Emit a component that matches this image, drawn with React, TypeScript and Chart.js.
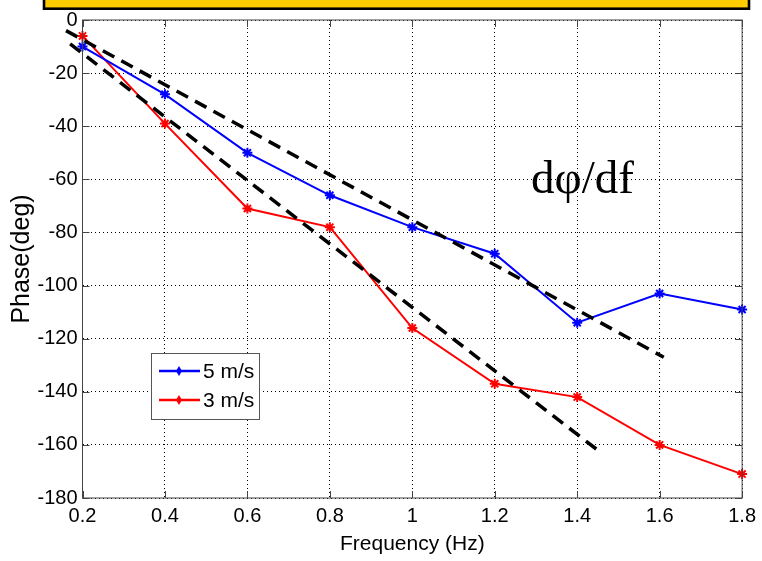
import { useEffect, useRef } from "react";
import { Chart, registerables } from "chart.js";

Chart.register(...registerables);

// ---- data ----
const frequencies = [0.2, 0.4, 0.6, 0.8, 1.0, 1.2, 1.4, 1.6, 1.8];
const phase5ms = [-10, -28, -50, -66, -78, -88, -114, -103, -109];
const phase3ms = [-6, -39, -71, -78, -116, -137, -142, -160, -171];
const fitUpperX = [0.16, 1.61];
const fitUpperY = [-4, -127];
const fitLowerX = [0.17, 1.45];
const fitLowerY = [-9, -162];
const xTickValues = [0.2, 0.4, 0.6, 0.8, 1.0, 1.2, 1.4, 1.6, 1.8];
const yTickValues = [0, -20, -40, -60, -80, -100, -120, -140, -160, -180];
const seriesLabels = ["5 m/s", "3 m/s"];
const xTitle = "Frequency (Hz)";
const yTitle = "Phase(deg)";
const annotationText = "dφ/df";

const SANS = "'Liberation Sans', Arial, sans-serif";
const SERIF = "'Liberation Serif', 'Times New Roman', serif";

const toXY = (xs: number[], ys: number[]) => xs.map((x, i) => ({ x, y: ys[i] }));

const decorPlugin = {
  id: "decor",
  afterDraw(chart: any) {
    const { ctx, chartArea } = chart;
    const { left, right, top, bottom } = chartArea;
    ctx.save();
    // yellow header box (cut off at top)
    ctx.fillStyle = "#FFCC00";
    ctx.fillRect(44, -4, 705, 12.7);
    ctx.strokeStyle = "#000";
    ctx.lineWidth = 2.6;
    ctx.strokeRect(44, -4, 705, 12.7);

    // axes box
    ctx.strokeStyle = "#444";
    ctx.lineWidth = 1;
    ctx.strokeRect(left, top, right - left, bottom - top);

    // inward ticks
    const xs = chart.scales.x;
    const ys = chart.scales.y;
    ctx.beginPath();
    xTickValues.forEach((v) => {
      const px = Math.round(xs.getPixelForValue(v)) + 0.5;
      ctx.moveTo(px, bottom);
      ctx.lineTo(px, bottom - 7);
      ctx.moveTo(px, top);
      ctx.lineTo(px, top + 7);
    });
    yTickValues.forEach((v) => {
      const py = Math.round(ys.getPixelForValue(v)) + 0.5;
      ctx.moveTo(left, py);
      ctx.lineTo(left + 7, py);
      ctx.moveTo(right, py);
      ctx.lineTo(right - 7, py);
    });
    ctx.stroke();

    // legend
    const lx = 151, ly = 353, lw = 108, lh = 66;
    ctx.fillStyle = "#fff";
    ctx.fillRect(lx, ly, lw, lh);
    ctx.strokeStyle = "#555";
    ctx.lineWidth = 1;
    ctx.strokeRect(lx + 0.5, ly + 0.5, lw, lh);
    const ds = chart.data.datasets.filter((d: any) => seriesLabels.includes(d.label));
    ds.forEach((d: any, i: number) => {
      const y = 371 + i * 29;
      ctx.strokeStyle = d.borderColor;
      ctx.lineWidth = 2.5;
      ctx.beginPath();
      ctx.moveTo(159, y);
      ctx.lineTo(200, y);
      ctx.stroke();
      ctx.fillStyle = d.borderColor;
      ctx.beginPath();
      ctx.moveTo(179, y - 5);
      ctx.lineTo(182, y);
      ctx.lineTo(179, y + 5);
      ctx.lineTo(176, y);
      ctx.closePath();
      ctx.fill();
      ctx.fillStyle = "#000";
      ctx.font = `21px ${SANS}`;
      ctx.textBaseline = "middle";
      ctx.textAlign = "left";
      ctx.fillText(d.label, 203, y + 1);
    });

    // annotation
    ctx.fillStyle = "#000";
    ctx.font = `47px ${SERIF}`;
    ctx.textBaseline = "alphabetic";
    ctx.textAlign = "left";
    ctx.fillText(annotationText, 531, 193);
    ctx.restore();
  },
};

export default function App() {
  const ref = useRef<HTMLCanvasElement | null>(null);

  useEffect(() => {
    if (!ref.current) return;
    const chart = new Chart(ref.current, {
      type: "line",
      data: {
        datasets: [
          {
            label: "fit1",
            data: toXY(fitUpperX, fitUpperY),
            borderColor: "#000",
            borderWidth: 3.5,
            borderDash: [13, 8],
            pointRadius: 0,
            clip: false as any,
            order: 0,
          },
          {
            label: "fit2",
            data: toXY(fitLowerX, fitLowerY),
            borderColor: "#000",
            borderWidth: 3.5,
            borderDash: [13, 8],
            pointRadius: 0,
            clip: false as any,
            order: 0,
          },
          {
            label: seriesLabels[0],
            data: toXY(frequencies, phase5ms),
            borderColor: "#0000FF",
            backgroundColor: "#0000FF",
            borderWidth: 2,
            pointStyle: "star",
            pointRadius: 5,
            pointBorderWidth: 2,
            clip: false as any,
            order: 1,
          },
          {
            label: seriesLabels[1],
            data: toXY(frequencies, phase3ms),
            borderColor: "#FF0000",
            backgroundColor: "#FF0000",
            borderWidth: 2,
            pointStyle: "star",
            pointRadius: 5,
            pointBorderWidth: 2,
            clip: false as any,
            order: 2,
          },
        ],
      },
      options: {
        animation: false,
        responsive: false,
        layout: { padding: { top: 20, right: 14, bottom: 0, left: 0 }, autoPadding: false },
        plugins: { legend: { display: false }, tooltip: { enabled: false } },
        scales: {
          x: {
            type: "linear",
            min: 0.2,
            max: 1.8,
            afterBuildTicks: (s: any) => {
              s.ticks = xTickValues.map((v) => ({ value: v }));
            },
            afterFit: (s: any) => {
              s.height = 63;
            },
            ticks: {
              padding: 6,
              color: "#000",
              font: { family: SANS, size: 20 },
              maxRotation: 0,
              autoSkip: false,
              callback: (v: any) => String(Math.round(Number(v) * 10) / 10),
            },
            grid: { color: "#000", drawTicks: false, tickLength: 0, lineWidth: 1 },
            border: { display: false, dash: [1, 3] },
            title: {
              display: true,
              text: xTitle,
              color: "#000",
              font: { family: SANS, size: 21 },
              padding: { top: 0, bottom: 4 },
            },
          },
          y: {
            type: "linear",
            min: -180,
            max: 0,
            afterBuildTicks: (s: any) => {
              s.ticks = yTickValues.map((v) => ({ value: v }));
            },
            afterFit: (s: any) => {
              s.width = 82.5;
            },
            ticks: {
              padding: 5,
              color: "#000",
              font: { family: SANS, size: 20 },
              autoSkip: false,
            },
            grid: { color: "#000", drawTicks: false, tickLength: 0, lineWidth: 1 },
            border: { display: false, dash: [1, 3] },
            title: {
              display: true,
              text: yTitle,
              color: "#000",
              font: { family: SANS, size: 25 },
              padding: { top: 7, bottom: 0 },
            },
          },
        },
      },
      plugins: [decorPlugin],
    });
    return () => chart.destroy();
  }, []);

  return (
    <div style={{ position: "absolute", left: 0, top: 0, width: 762, height: 561, background: "#fff" }}>
      <canvas ref={ref} width={762} height={561} style={{ display: "block" }} />
    </div>
  );
}
